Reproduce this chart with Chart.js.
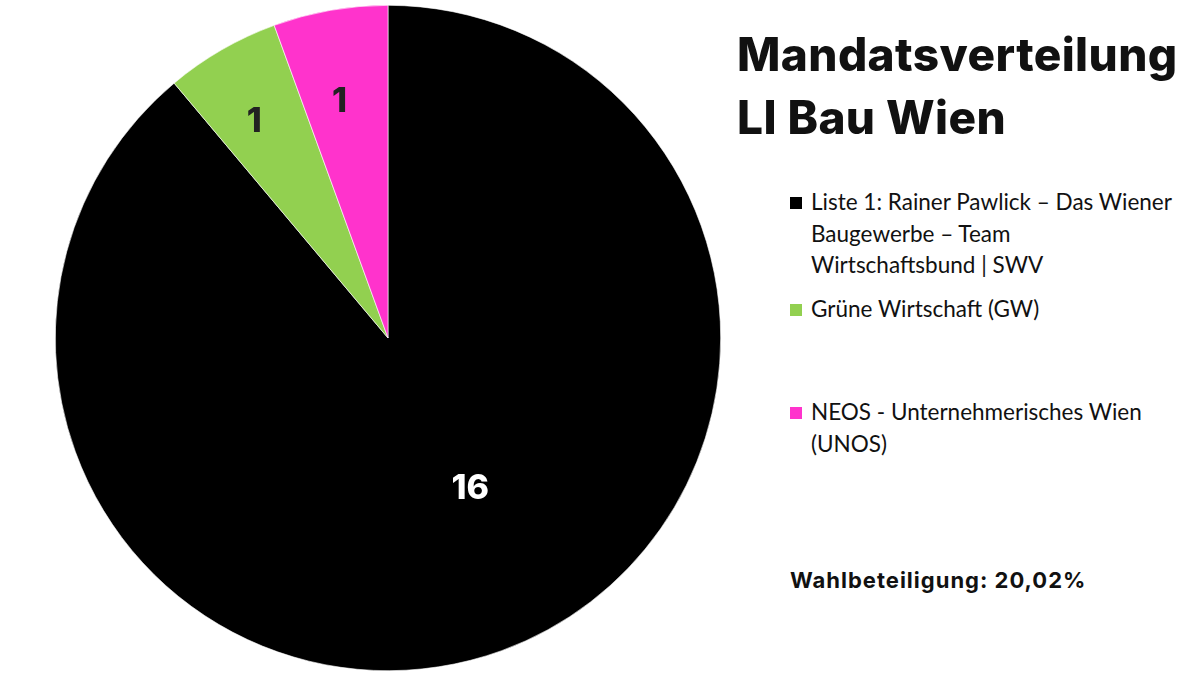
<!DOCTYPE html>
<html>
<head>
<meta charset="utf-8">
<script src="https://cdn.jsdelivr.net/npm/chart.js@4/dist/chart.umd.min.js"></script>
<style>
  html, body { margin: 0; padding: 0; background: #fff; }
  body { width: 1200px; height: 675px; position: relative; overflow: hidden; }
  #pieBox { position: absolute; left: 0; top: 0; width: 776px; height: 675px; }
  #title {
    position: absolute; left: 737px; top: 23px;
    font-family: Inter, "DejaVu Sans", sans-serif; font-weight: 800;
    font-size: 46px; line-height: 63px; color: #111; letter-spacing: 0.4px;
  }
  #legend { position: absolute; left: 790px; top: 186px; width: 388px; }
  .item { position: relative; padding-left: 21px; font-family: Lato, "Open Sans", sans-serif;
    font-size: 22.5px; line-height: 31.5px; color: #111; }
  .item .sw { position: absolute; left: 0; top: 11px; width: 12px; height: 12px; }
  #turnout {
    position: absolute; left: 790px; top: 567px;
    font-family: Inter, sans-serif; font-weight: 700; font-size: 22px; color: #111;
    letter-spacing: 1px;
  }
</style>
</head>
<body>
<div id="pieBox"><canvas id="pie"></canvas></div>
<div id="title">Mandatsverteilung<br>LI Bau Wien</div>
<div id="legend"></div>
<div id="turnout">Wahlbeteiligung: 20,02%</div>
<script>
// data
const parties = [
  'Liste 1: Rainer Pawlick – Das Wiener Baugewerbe – Team Wirtschaftsbund | SWV',
  'Grüne Wirtschaft (GW)',
  'NEOS - Unternehmerisches Wien (UNOS)'
];
const seats = [16, 1, 1];
const colors = ['#000000', '#92d050', '#ff33cc'];
const labelColors = ['#ffffff', '#222222', '#222222'];

// label placement (fraction of radius, angle tweak in degrees)
const labelRadius = [0.51, 0.77, 0.73];
const labelAngleShift = [-9, -1.5, -1.5];
const legendGaps = [0, 12, 72];

// legend as plain html
const legend = document.getElementById('legend');
parties.forEach((name, i) => {
  const div = document.createElement('div');
  div.className = 'item';
  div.style.marginTop = legendGaps[i] + 'px';
  div.innerHTML = `<span class="sw" style="background:${colors[i]}"></span>${name}`;
  legend.appendChild(div);
});

// slice labels
const sliceLabels = {
  id: 'sliceLabels',
  afterDatasetsDraw(chart) {
    const ctx = chart.ctx;
    const meta = chart.getDatasetMeta(0);
    meta.data.forEach((arc, i) => {
      const p = arc.getProps(['startAngle', 'endAngle', 'outerRadius', 'x', 'y'], true);
      const mid = (p.startAngle + p.endAngle) / 2 + labelAngleShift[i] * Math.PI / 180;
      const r = p.outerRadius * labelRadius[i];
      ctx.save();
      ctx.font = '800 34px Inter, sans-serif';
      ctx.fillStyle = labelColors[i];
      ctx.textAlign = 'center';
      ctx.textBaseline = 'middle';
      ctx.fillText(String(seats[i]), p.x + Math.cos(mid) * r, p.y + Math.sin(mid) * r + 2);
      ctx.restore();
    });
  }
};

new Chart(document.getElementById('pie'), {
  type: 'pie',
  data: {
    labels: parties,
    datasets: [{
      data: seats,
      backgroundColor: colors,
      borderColor: '#ffffff',
      borderWidth: 0.6
    }]
  },
  options: {
    responsive: true,
    maintainAspectRatio: false,
    animation: false,
    layout: { padding: { top: 5, bottom: 4, left: 5, right: 5 } },
    plugins: { legend: { display: false }, tooltip: { enabled: false } }
  },
  plugins: [sliceLabels]
});
</script>
</body>
</html>
